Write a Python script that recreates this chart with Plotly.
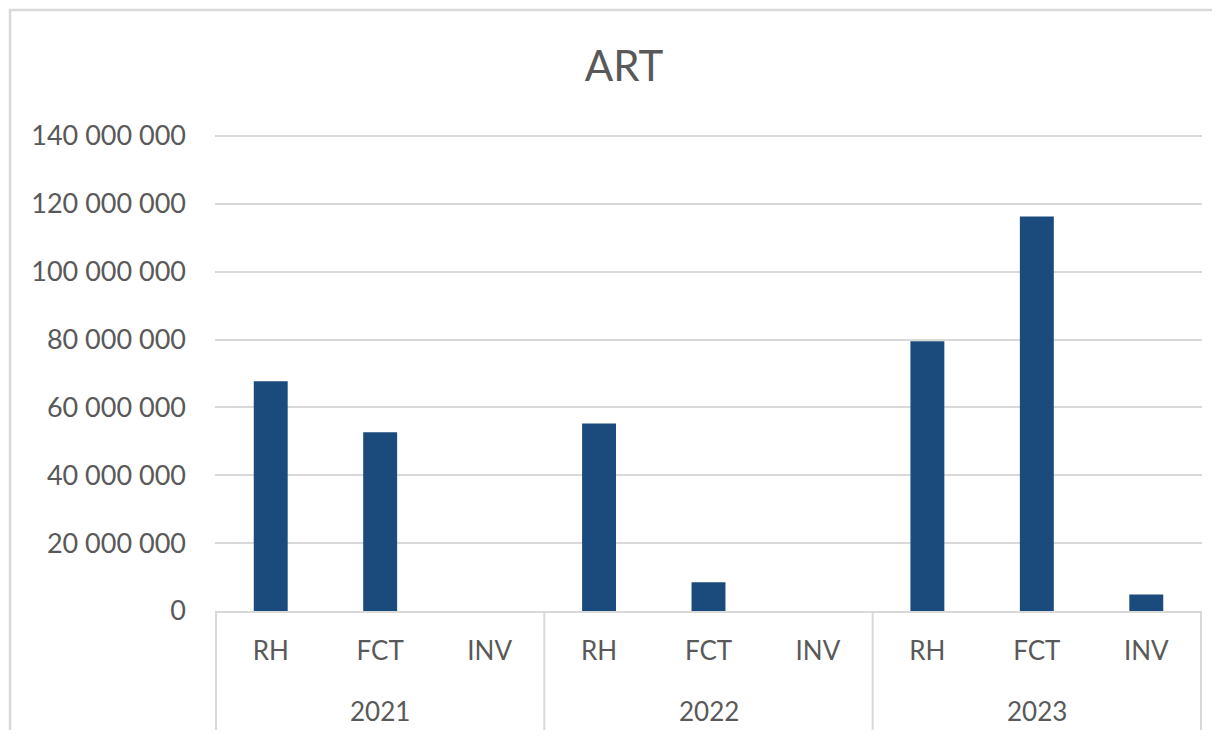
import plotly.graph_objects as go

years = ["2021", "2021", "2021", "2022", "2022", "2022", "2023", "2023", "2023"]
categories = ["RH", "FCT", "INV", "RH", "FCT", "INV", "RH", "FCT", "INV"]
values = [67700000, 52700000, 0, 55300000, 8500000, 0, 79500000, 116300000, 4900000]

y_ticks = [0, 20000000, 40000000, 60000000, 80000000, 100000000, 120000000, 140000000]
year_groups = ["2021", "2022", "2023"]

FONT = "Lato"
GRAY = "#595959"
GRID = "#D9D9D9"

# page body has an 8px margin; figure coordinates are offset accordingly
OFF = 8
FIG_W = 1220 - OFF
FIG_H = 742 - 2 * OFF - 4

PLOT_LEFT = 215 - OFF
PLOT_RIGHT = 1202 - OFF
PLOT_TOP = 134 - OFF
PLOT_BOTTOM = 611 - OFF
plot_h = PLOT_BOTTOM - PLOT_TOP
plot_w = PLOT_RIGHT - PLOT_LEFT

x_keys = [f"{y} {c}" for y, c in zip(years, categories)]

fig = go.Figure(
    go.Bar(
        x=x_keys,
        y=values,
        marker=dict(color="#1A4B7C", line=dict(width=0)),
    )
)

fig.update_layout(
    width=FIG_W,
    height=FIG_H,
    margin=dict(l=PLOT_LEFT, r=FIG_W - PLOT_RIGHT, t=PLOT_TOP, b=FIG_H - PLOT_BOTTOM),
    paper_bgcolor="white",
    plot_bgcolor="white",
    separators=". ",
    bargap=0.69,
    showlegend=False,
    font=dict(family=FONT, size=26, color=GRAY),
    title=dict(
        text="ART",
        x=(624 - OFF) / FIG_W,
        xanchor="center",
        y=1 - (66 - OFF) / FIG_H,
        yanchor="middle",
        font=dict(family=FONT, size=42, color=GRAY),
    ),
)

fig.update_yaxes(
    range=[0, 140600000],
    tickvals=y_ticks,
    tickformat=",d",
    showgrid=True,
    gridcolor=GRID,
    gridwidth=2,
    zeroline=False,
    showline=False,
    ticks="",
    ticklabelstandoff=28,
    automargin=False,
    tickfont=dict(family=FONT, size=27, color=GRAY),
)

fig.update_xaxes(
    type="category",
    tickvals=x_keys,
    ticktext=categories,
    showline=True,
    linecolor=GRID,
    linewidth=2,
    ticks="",
    ticklabelstandoff=16,
    automargin=False,
    tickfont=dict(family=FONT, size=26, color=GRAY),
    showgrid=False,
)

# year group labels, centered on the middle category of each group
for g in year_groups:
    idx = [i for i, y in enumerate(years) if y == g]
    mid = x_keys[idx[len(idx) // 2]]
    fig.add_annotation(
        x=mid,
        xref="x",
        y=-(711 - 611) / plot_h,
        yref="paper",
        text=g,
        showarrow=False,
        yanchor="middle",
        font=dict(family=FONT, size=26, color=GRAY),
    )

# group dividers
bounds = [-0.5]
for g in year_groups:
    idx = [i for i, y in enumerate(years) if y == g]
    bounds.append(idx[-1] + 0.5)
for b in bounds:
    fig.add_shape(
        type="line",
        xref="x",
        yref="paper",
        x0=b,
        x1=b,
        y0=0,
        y1=-(730 - 611) / plot_h,
        line=dict(color=GRID, width=2),
    )

# outer chart frame (its right and bottom edges lie outside the picture)
fig.add_shape(
    type="rect",
    xref="paper",
    yref="paper",
    x0=(10 - 215) / plot_w,
    x1=1.2,
    y0=-0.5,
    y1=(611 - 10) / plot_h,
    line=dict(color=GRID, width=2.5),
    fillcolor="rgba(0,0,0,0)",
    layer="below",
)

fig.write_html("out.html")
